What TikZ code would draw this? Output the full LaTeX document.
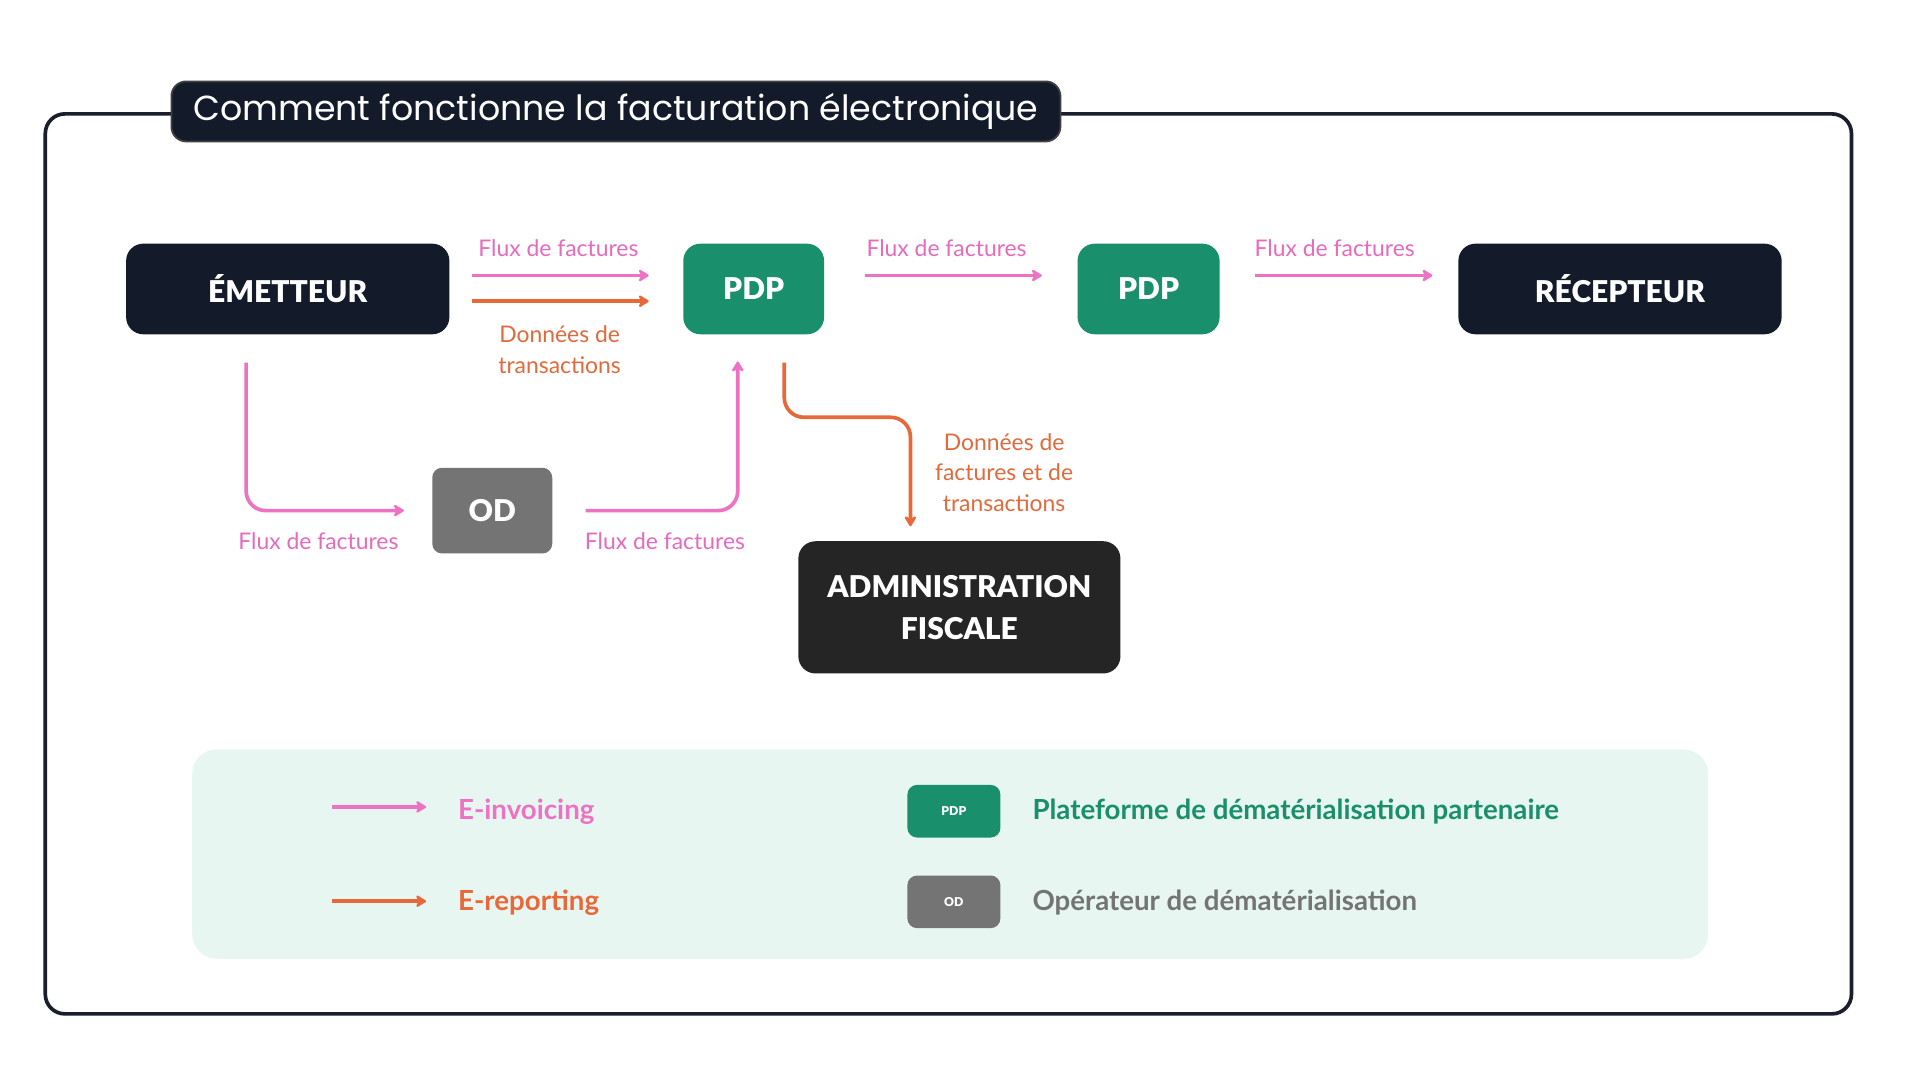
\documentclass[tikz,border=0pt]{standalone}
\usepackage{fontspec}
\setmainfont{Lato}
\newfontfamily\pop{Poppins}
\newfontfamily\heavy{Lato Black}
\usetikzlibrary{arrows.meta}
\definecolor{navy}{HTML}{131A29}
\definecolor{pdpgreen}{HTML}{1A8F6C}
\definecolor{odgray}{HTML}{747474}
\definecolor{admin}{HTML}{252525}
\definecolor{pinkc}{HTML}{EE72C4}
\definecolor{pinktext}{HTML}{E56BBD}
\definecolor{orangec}{HTML}{E8683A}
\definecolor{orangetext}{HTML}{E06A3C}
\definecolor{mint}{HTML}{E7F6F1}
\definecolor{framec}{HTML}{1A1F2B}
\begin{document}
\begin{tikzpicture}[x=1pt,y=-1pt,
  bigbox/.style={rounded corners=14pt, text=white, font=\heavy\fontsize{24.5}{34}\selectfont, align=center, inner sep=0pt, minimum height=74pt},
  flow/.style={line width=3pt, -{Stealth[length=10pt,width=12pt,inset=3pt,round]}},
  pinkflow/.style={flow, draw=pinkc},
  orangeflow/.style={flow, draw=orangec},
  pinklbl/.style={text=pinktext, font=\fontsize{18.7}{25}\selectfont, align=center, inner sep=0pt},
  orangelbl/.style={text=orangetext, font=\fontsize{18.7}{25}\selectfont, align=center, inner sep=0pt},
  legbox/.style={rounded corners=8pt, text=white, font=\heavy\fontsize{10}{12}\selectfont, minimum width=76pt, minimum height=43pt, inner sep=0pt},
  legtxt/.style={anchor=west, font=\bfseries\fontsize{22.6}{26}\selectfont, inner sep=0pt}
]
\useasboundingbox[fill=white] (0,0) rectangle (1568,882);

% frame and title
\draw[framec, line width=3pt, rounded corners=16pt] (37,93) rectangle (1512,828);
\node[fill=navy, draw=black!75, line width=1.5pt, rounded corners=12pt, minimum width=726pt, minimum height=49pt, inner sep=0pt, text=white, font=\pop\fontsize{28.4}{32}\selectfont] (title) at (503,91) {Comment fonctionne la facturation électronique};

% main nodes
\node[bigbox, fill=navy, minimum width=264pt] (emet) at (235,236) {ÉMETTEUR};
\node[bigbox, fill=pdpgreen, minimum width=115pt] (pdp1) at (615.5,236) {PDP};
\node[bigbox, fill=pdpgreen, minimum width=116pt] (pdp2) at (938,236) {PDP};
\node[bigbox, fill=navy, minimum width=264pt] (recep) at (1323,236) {RÉCEPTEUR};
\node[bigbox, fill=odgray, rounded corners=8pt, minimum width=98pt, minimum height=70pt] (od) at (402,417) {OD};
\node[bigbox, fill=admin, minimum width=263pt, minimum height=108pt] (admin) at (783.5,496) {ADMINISTRATION\\FISCALE};

% connectors
\draw[pinkflow, shorten <=18pt, shorten >=28pt] ([yshift=11pt]emet.east) -- ([yshift=11pt]pdp1.west);
\draw[orangeflow, shorten <=18pt, shorten >=28pt] ([yshift=-10pt]emet.east) -- ([yshift=-10pt]pdp1.west);
\draw[pinkflow, shorten <=33pt, shorten >=29pt] ([yshift=11pt]pdp1.east) -- ([yshift=11pt]pdp2.west);
\draw[pinkflow, shorten <=29pt, shorten >=21pt] ([yshift=11pt]pdp2.east) -- ([yshift=11pt]recep.west);
\draw[pinkflow, rounded corners=16pt, shorten <=23pt, shorten >=23pt] ([xshift=-34pt]emet.south) |- (od.west);
\draw[pinkflow, rounded corners=16pt, shorten <=27pt, shorten >=22pt] (od.east) -| ([xshift=-13pt]pdp1.south);
\draw[orangeflow, rounded corners=16pt, shorten <=23pt, shorten >=12pt] ([xshift=25pt]pdp1.south) |- ([xshift=-40pt, yshift=101pt]admin.north) -- ([xshift=-40pt]admin.north);

% labels
\node[pinklbl] (l1) at (456,203) {Flux de factures};
\node[orangelbl] (l2) at (457,285.5) {Données de\\transactions};
\node[pinklbl] (l3) at (773,203) {Flux de factures};
\node[pinklbl] (l4) at (1090,203) {Flux de factures};
\node[pinklbl] (l5) at (260,442) {Flux de factures};
\node[pinklbl] (l6) at (543,442) {Flux de factures};
\node[orangelbl] (l7) at (820,386) {Données de\\factures et de\\transactions};

% legend
\fill[mint, rounded corners=20pt] (157,612) rectangle (1395,783);
\node[legtxt, text=pinkc] (einv) at (374,663) {E-invoicing};
\node[legtxt, text=orangec] (erep) at (374,737) {E-reporting};
\coordinate (lg1) at (271,659);
\coordinate (lg2) at (271,736);
\draw[pinkflow, shorten >=26pt] (lg1) -- (lg1 -| einv.west);
\draw[orangeflow, shorten >=26pt] (lg2) -- (lg2 -| erep.west);
\node[legbox, fill=pdpgreen] (lpdp) at (779,662.5) {PDP};
\node[legbox, fill=odgray] (lod) at (779,736.5) {OD};
\node[legtxt, text=pdpgreen] (tpdp) at (843,663) {Plateforme de dématérialisation partenaire};
\node[legtxt, text=odgray] (tod) at (843,737) {Opérateur de dématérialisation};
\end{tikzpicture}
\end{document}
